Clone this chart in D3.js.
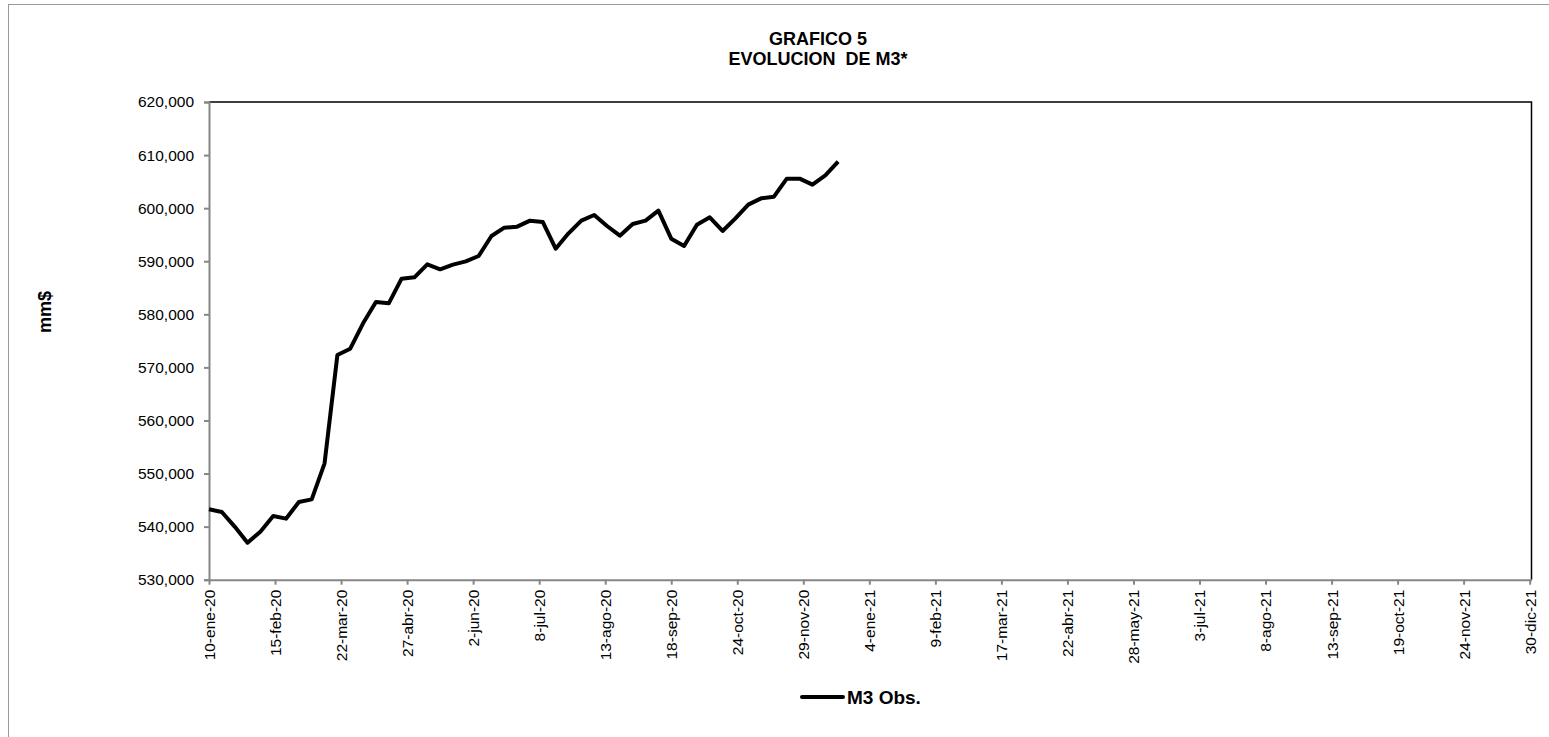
<!DOCTYPE html>
<html>
<head>
    <meta charset='utf-8'>
    <title>Grafico 5 - Evolucion de M3</title>
    <style>
        body { margin: 0; background: #fff; }
        svg { display: block; font-family: "Liberation Sans", Arial, sans-serif; }
    </style>
</head>
<body>
<svg width="1549" height="737"></svg>
<script src="https://d3js.org/d3.v7.min.js"></script>
<script>
    // weekly observations (fridays)
    const dates = [
        "2020-01-10", "2020-01-17", "2020-01-24", "2020-01-31", "2020-02-07", "2020-02-14", "2020-02-21", "2020-02-28",
        "2020-03-06", "2020-03-13", "2020-03-20", "2020-03-27", "2020-04-03", "2020-04-10", "2020-04-17", "2020-04-24",
        "2020-05-01", "2020-05-08", "2020-05-15", "2020-05-22", "2020-05-29", "2020-06-05", "2020-06-12", "2020-06-19",
        "2020-06-26", "2020-07-03", "2020-07-10", "2020-07-17", "2020-07-24", "2020-07-31", "2020-08-07", "2020-08-14",
        "2020-08-21", "2020-08-28", "2020-09-04", "2020-09-11", "2020-09-18", "2020-09-25", "2020-10-02", "2020-10-09",
        "2020-10-16", "2020-10-23", "2020-10-30", "2020-11-06", "2020-11-13", "2020-11-20", "2020-11-27", "2020-12-04",
        "2020-12-11", "2020-12-18"
    ]
    const m3Obs = [
        543260, 542750, 540000, 536970, 539050, 542000, 541500, 544640,
        545140, 551930, 572330, 573520, 578300, 582320, 582070, 586710,
        586970, 589420, 588480, 589350, 589980, 590990, 594750, 596320,
        596510, 597640, 597390, 592360, 595260, 597640, 598710, 596640,
        594810, 597010, 597640, 599530, 594250, 592870, 596890, 598270,
        595700, 598080, 600660, 601850, 602160, 605560, 605560, 604430,
        606180, 608760
    ]
    const tickDates = [
        "2020-01-10", "2020-02-15", "2020-03-22", "2020-04-27", "2020-06-02", "2020-07-08", "2020-08-13",
        "2020-09-18", "2020-10-24", "2020-11-29", "2021-01-04", "2021-02-09", "2021-03-17", "2021-04-22",
        "2021-05-28", "2021-07-03", "2021-08-08", "2021-09-13", "2021-10-19", "2021-11-24", "2021-12-30"
    ]
    const yTicks = [530000, 540000, 550000, 560000, 570000, 580000, 590000, 600000, 610000, 620000]
    const meses = ["ene", "feb", "mar", "abr", "may", "jun", "jul", "ago", "sep", "oct", "nov", "dic"]

    const parse = d3.utcParse("%Y-%m-%d")
    const fmtDate = d => d.getUTCDate() + "-" + meses[d.getUTCMonth()] + "-" + String(d.getUTCFullYear()).slice(2)
    const fmtNum = d3.format(",")

    const data = dates.map((d, i) => ({date: parse(d), value: m3Obs[i]}))

    const margin = {top: 102, right: 17.5, bottom: 157.3, left: 209}
    const width = 1549
    const height = 737

    const x = d3.scaleUtc()
        .domain([parse("2020-01-10"), parse("2021-12-31")])
        .range([margin.left, width - margin.right])

    const y = d3.scaleLinear()
        .domain([530000, 620000])
        .range([height - margin.bottom, margin.top])

    const svg = d3.select("svg")

    // outer chart frame
    svg.append("rect")
        .attr("x", 8.5).attr("y", 4.5)
        .attr("width", 1560).attr("height", 760)
        .attr("fill", "none")
        .attr("stroke", "#9a9a9a")

    // plot area border (top / right)
    svg.append("path")
        .attr("d", `M${x.range()[0]},${y(620000)}H${x.range()[1]}V${y(530000)}`)
        .attr("fill", "none")
        .attr("stroke", "#000")
        .attr("stroke-width", 1.5)

    const yAxis = g => g
        .attr("transform", `translate(${margin.left},0)`)
        .call(d3.axisLeft(y).tickValues(yTicks).tickFormat(fmtNum).tickSize(5).tickPadding(10))
        .call(g => g.selectAll(".domain, .tick line").attr("stroke", "#868686").attr("stroke-width", 2))
        .call(g => g.selectAll("text").attr("fill", "#000").attr("font-size", 15.5)
            .attr("font-family", "Liberation Sans, Arial, sans-serif"))

    const xAxis = g => g
        .attr("transform", `translate(0,${height - margin.bottom})`)
        .call(d3.axisBottom(x).tickValues(tickDates.map(parse)).tickFormat(fmtDate).tickSize(5).tickSizeOuter(0))
        .call(g => g.selectAll(".domain, .tick line").attr("stroke", "#868686").attr("stroke-width", 2))
        .call(g => g.selectAll("text")
            .attr("fill", "#000")
            .attr("font-size", 15.5)
            .attr("font-family", "Liberation Sans, Arial, sans-serif")
            .attr("text-anchor", "end")
            .attr("transform", "rotate(-90)")
            .attr("x", -10)
            .attr("y", 0)
            .attr("dy", "0.35em"))

    svg.append("g").call(xAxis)
    svg.append("g").call(yAxis)

    const line = d3.line()
        .x(d => x(d.date))
        .y(d => y(d.value))

    svg.append("path")
        .datum(data)
        .attr("fill", "none")
        .attr("stroke", "#000")
        .attr("stroke-width", 4)
        .attr("stroke-linejoin", "round")
        .attr("d", line)

    // titles
    const title = svg.append("g")
        .attr("font-weight", "bold")
        .attr("font-size", 18)
        .attr("text-anchor", "middle")
    title.append("text").attr("x", 818).attr("y", 44.5).text("GRAFICO 5")
    title.append("text").attr("x", 818).attr("y", 65).attr("xml:space", "preserve").text("EVOLUCION  DE M3*")

    svg.append("text")
        .attr("transform", "translate(51,312) rotate(-90)")
        .attr("text-anchor", "middle")
        .attr("font-weight", "bold")
        .attr("font-size", 18)
        .text("mm$")

    // legend
    const legend = svg.append("g").attr("transform", "translate(802,697)")
    legend.append("line")
        .attr("x1", 0).attr("x2", 41)
        .attr("stroke", "#000").attr("stroke-width", 4).attr("stroke-linecap", "round")
    legend.append("text")
        .attr("x", 45).attr("y", 6.5)
        .attr("font-weight", "bold")
        .attr("font-size", 19)
        .text("M3 Obs.")
</script>
</body>
</html>
